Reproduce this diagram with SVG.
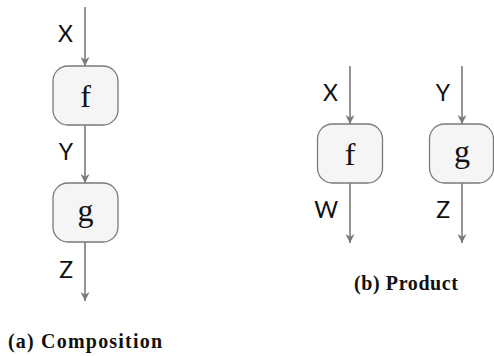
<svg xmlns="http://www.w3.org/2000/svg" width="494" height="356" viewBox="0 0 494 356">
<defs>
<marker id="ah" viewBox="0 0 10 10" refX="10" refY="5" markerWidth="9" markerHeight="9" markerUnits="userSpaceOnUse" orient="auto">
<path d="M0,0 L10,5 L0,10 L3,5 Z" fill="#7a7a7a"/>
</marker>
</defs>
<style>
.box{fill:#f5f5f5;stroke:#7a7a7a;stroke-width:1.3}
.edge{stroke:#7a7a7a;stroke-width:1.6;fill:none;marker-end:url(#ah)}
.nl{font-family:"Liberation Serif","DejaVu Serif",serif;font-size:32px;fill:#111;text-anchor:middle}
.el{font-family:Lato,"Open Sans",sans-serif;font-size:23px;fill:#111;text-anchor:end}
.cap{font-family:"Liberation Serif","DejaVu Serif",serif;font-size:20px;font-weight:bold;fill:#111}
</style>
<g id="connectors">
<line class="edge" x1="85" y1="7" x2="85" y2="66"/>
<line class="edge" x1="85" y1="125" x2="85" y2="183"/>
<line class="edge" x1="85" y1="242" x2="85" y2="301"/>
<line class="edge" x1="350" y1="66" x2="350" y2="124"/>
<line class="edge" x1="350" y1="183" x2="350" y2="243"/>
<line class="edge" x1="462" y1="66" x2="462" y2="124"/>
<line class="edge" x1="462" y1="183" x2="462" y2="243"/>
</g>
<g id="edge-labels">
<text class="el" x="73" y="42">X</text>
<text class="el" x="73" y="160">Y</text>
<text class="el" x="73" y="278">Z</text>
<text class="el" x="338" y="101">X</text>
<text class="el" x="338" y="218">W</text>
<text class="el" x="450" y="101">Y</text>
<text class="el" x="450" y="218">Z</text>
</g>
<g id="comp-f">
<rect class="box" x="53" y="66" width="65" height="59" rx="15"/>
<text class="nl" x="85.5" y="107">f</text>
</g>
<g id="comp-g">
<rect class="box" x="53" y="183" width="65" height="59" rx="15"/>
<text class="nl" x="85.5" y="221">g</text>
</g>
<g id="prod-f">
<rect class="box" x="317.5" y="124" width="65" height="59" rx="15"/>
<text class="nl" x="350" y="165">f</text>
</g>
<g id="prod-g">
<rect class="box" x="429.5" y="124" width="64" height="59" rx="15"/>
<text class="nl" x="462" y="162">g</text>
</g>
<text class="cap" x="8" y="348" textLength="154" lengthAdjust="spacing">(a) Composition</text>
<text class="cap" x="354" y="290" textLength="104" lengthAdjust="spacing">(b) Product</text>
</svg>
